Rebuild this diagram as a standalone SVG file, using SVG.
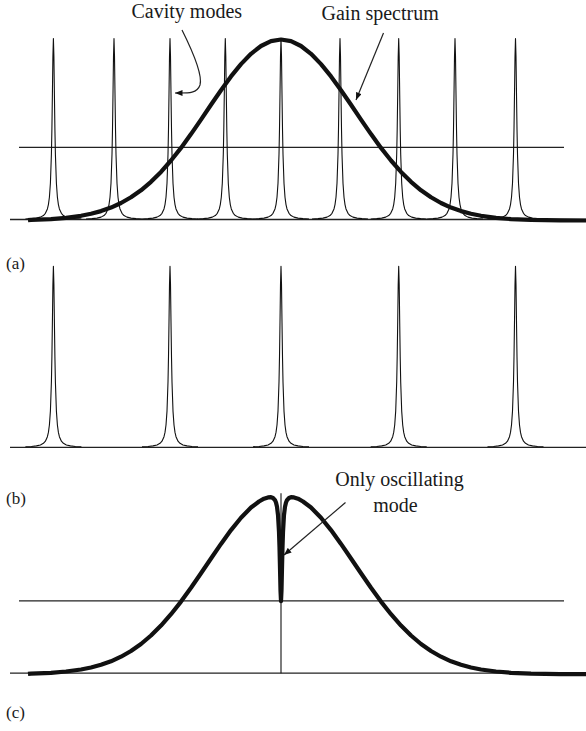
<svg xmlns="http://www.w3.org/2000/svg" xmlns:xlink="http://www.w3.org/1999/xlink" width="586" height="731" viewBox="0 0 586 731">
<style>
.lbl{font-family:"Liberation Serif","Times New Roman",serif;font-size:20px;fill:#1a1a1a}
.plbl{font-family:"Liberation Serif","Times New Roman",serif;font-size:17px;fill:#1a1a1a}
.axis{stroke:#222;stroke-width:1.3;fill:none}
.mode{stroke:#111;stroke-width:1.1;fill:none;stroke-linejoin:round}
.gain{stroke:#111;stroke-width:4.2;fill:none;stroke-linejoin:round;stroke-linecap:butt}
.arrow{stroke:#222;stroke-width:1.2;fill:none}
</style>
<defs>
<path id="peak" class="mode" d="M-28,-0.52 L-22,-0.83 L-17,-1.4 L-13,-2.38 L-10,-3.99 L-8,-6.15 L-6,-10.6 L-5,-14.9 L-4,-22.3 L-3,-36.2 L-2,-65.2 L-1.5,-90.5 L-1,-125.4 L-0.5,-162.9 L0,-181 L0.5,-162.9 L1,-125.4 L1.5,-90.5 L2,-65.2 L3,-36.2 L4,-22.3 L5,-14.9 L6,-10.6 L8,-6.15 L10,-3.99 L13,-2.38 L17,-1.4 L22,-0.83 L28,-0.52"/>
<marker id="ah" viewBox="0 0 10 8" refX="10" refY="4" markerWidth="8" markerHeight="6" markerUnits="userSpaceOnUse" orient="auto">
<path d="M0,0 L10,4 L0,8 Z" fill="#111"/>
</marker>
</defs>

<g id="panel-a">
<line class="axis" x1="10" y1="219.5" x2="586" y2="219.5"/>
<line class="axis" x1="19" y1="147.4" x2="564" y2="147.4"/>
<g id="cavity-modes-a">
<use xlink:href="#peak" x="53.4" y="219.5"/>
<use xlink:href="#peak" x="114" y="219.5"/>
<use xlink:href="#peak" x="170" y="219.5"/>
<use xlink:href="#peak" x="225.3" y="219.5"/>
<use xlink:href="#peak" x="281" y="219.5"/>
<use xlink:href="#peak" x="340" y="219.5"/>
<use xlink:href="#peak" x="398.7" y="219.5"/>
<use xlink:href="#peak" x="455" y="219.5"/>
<use xlink:href="#peak" x="515.5" y="219.5"/>
</g>
<path id="gain-a" class="gain" d="M28,220.2 L31,219.9 L51,219.1 L66,217.8 L81,215.8 L91,213.8 L101,211.1 L111,207.6 L121,203 L131,197.3 L141,190.3 L151,181.8 L161,171.9 L171,160.5 L181,147.9 L191,134.1 L201,119.6 L211,104.8 L221,90.2 L231,76.4 L241,64.1 L251,53.8 L261,46 L271,41.1 L281,39.5 L291,41.1 L301,46 L311,53.8 L321,64.1 L331,76.4 L341,90.2 L351,104.8 L361,119.6 L371,134.1 L381,147.9 L391,160.5 L401,171.9 L411,181.8 L421,190.3 L431,197.3 L441,203 L451,207.6 L461,211.1 L471,213.8 L481,215.8 L496,217.8 L511,219.1 L531,219.9 L560,220.4 L586,220.5"/>
<text class="plbl" x="6" y="269">(a)</text>
</g>

<g id="panel-b">
<line class="axis" x1="10" y1="447.3" x2="586" y2="447.3"/>
<use xlink:href="#peak" x="53.4" y="447.3"/>
<use xlink:href="#peak" x="170" y="447.3"/>
<use xlink:href="#peak" x="281" y="447.3"/>
<use xlink:href="#peak" x="398.7" y="447.3"/>
<use xlink:href="#peak" x="515.5" y="447.3"/>
<text class="plbl" x="6" y="504">(b)</text>
</g>

<g id="panel-c">
<g transform="translate(0,453.7)">
<line class="axis" x1="10" y1="219.5" x2="586" y2="219.5"/>
<line class="axis" x1="19" y1="147.2" x2="564" y2="147.2"/>
<line class="mode" x1="281" y1="39.5" x2="281" y2="219.5"/>
<path id="gain-c" class="gain" d="M28,220.2 L31,219.9 L51,219.1 L66,217.8 L81,215.8 L91,213.8 L101,211.1 L111,207.6 L121,203 L131,197.3 L141,190.3 L151,181.8 L161,171.9 L171,160.5 L181,147.9 L191,134.1 L201,119.6 L211,104.8 L221,90.2 L231,76.4 L241,64.1 L251,53.8 L259,47.8 L264,45 L268,43.7 L271,43.5 L273,44.3 L275,46.5 L276,48.8 L277,53.1 L278,61.2 L279,78.4 L279.5,93.5 L280,114.3 L280.5,136.7 L281,147.5 L281.5,136.7 L282,114.3 L282.5,93.5 L283,78.4 L284,61.2 L285,53.1 L286,48.8 L287,46.5 L289,44.3 L291,43.5 L294,43.7 L298,45 L303,47.8 L311,53.8 L321,64.1 L331,76.4 L341,90.2 L351,104.8 L361,119.6 L371,134.1 L381,147.9 L391,160.5 L401,171.9 L411,181.8 L421,190.3 L431,197.3 L441,203 L451,207.6 L461,211.1 L471,213.8 L481,215.8 L496,217.8 L511,219.1 L531,219.9 L560,220.4 L586,220.5"/>
</g>
<text class="plbl" x="6" y="718">(c)</text>
</g>

<g id="connectors">
<path class="arrow" d="M182,30 C192,50 203,74 200,85 C197,94 187,93 175,93" marker-end="url(#ah)"/>
<line class="arrow" x1="383.5" y1="33" x2="356" y2="100" marker-end="url(#ah)"/>
<line class="arrow" x1="345.5" y1="502.5" x2="284" y2="555" marker-end="url(#ah)"/>
</g>

<g id="label-cavity"><text class="lbl" x="131.5" y="17.5">Cavity modes</text></g>
<g id="label-gain"><text class="lbl" x="321.5" y="20">Gain spectrum</text></g>
<g id="label-only">
<text class="lbl" x="399.5" y="485.5" text-anchor="middle">Only oscillating</text>
<text class="lbl" x="395.5" y="512" text-anchor="middle">mode</text>
</g>
</svg>
